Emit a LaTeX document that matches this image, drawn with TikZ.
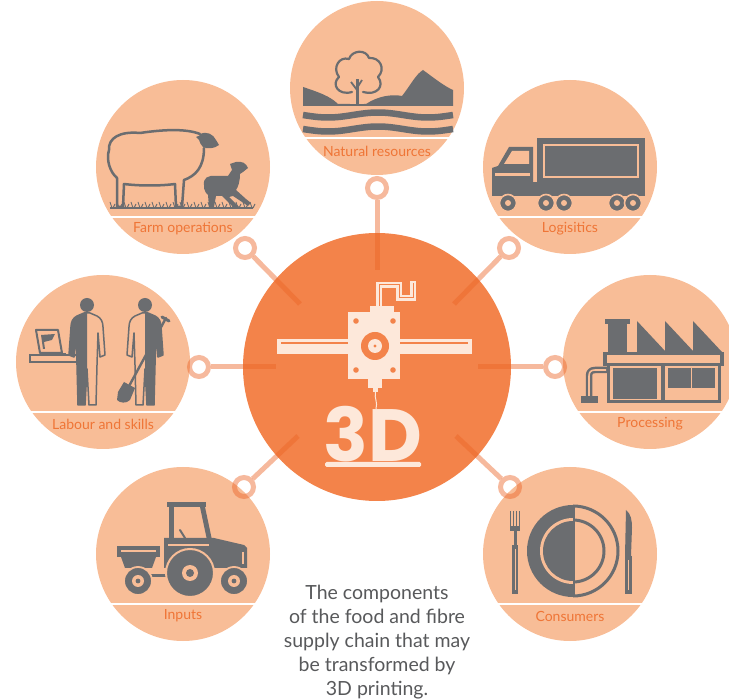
\documentclass[tikz,border=0pt]{standalone}
\usepackage{fontspec}
\setmainfont{Lato}
\newfontfamily\bigfont{Poppins}
\usetikzlibrary{calc}

\definecolor{hubfill}{HTML}{F3834A}
\definecolor{petal}{HTML}{F8BD97}
\definecolor{link}{HTML}{EC6426}
\definecolor{ink}{HTML}{6B6D70}
\definecolor{cream}{HTML}{FDE8DA}
\definecolor{labelc}{HTML}{EF7536}
\definecolor{capc}{HTML}{58595B}

\tikzset{
  hub/.style={circle, fill=hubfill, minimum size=268pt, inner sep=0pt},
  petalnode/.style={circle, fill=petal, minimum size=174pt, inner sep=0pt},
  ringnode/.style={circle, draw=link, draw opacity=0.45, line width=5pt, minimum size=19pt, inner sep=0pt},
  linkline/.style={draw=link, draw opacity=0.45, line width=5pt},
  divider/.style={draw=white, line width=1.5pt},
  lbl/.style={text=labelc, font=\fontsize{14}{16}\selectfont, inner sep=0pt, anchor=center},
  iconline/.style={draw=ink, line width=2.4pt, line join=round, line cap=round},
  pics/person/.style={code={
    \begin{scope}
      \clip (#1,-12) rectangle (0,104);
      \fill[ink] (-3,8) -- (-10,11) .. controls (-14,13) and (-16,17) .. (-16,22) -- (-18,50) -- (-13,52) -- (-11,28) -- (-10,60) -- (-9,100) -- (-2,100) -- (0,64) -- (2,100) -- (9,100) -- (10,60) -- (11,28) -- (13,52) -- (18,50) -- (16,22) .. controls (16,17) and (14,13) .. (10,11) -- (3,8) -- cycle;
    \end{scope}
    \draw[ink, line width=1.5pt, line join=round] (-3,8) -- (-10,11) .. controls (-14,13) and (-16,17) .. (-16,22) -- (-18,50) -- (-13,52) -- (-11,28) -- (-10,60) -- (-9,100) -- (-2,100) -- (0,64) -- (2,100) -- (9,100) -- (10,60) -- (11,28) -- (13,52) -- (18,50) -- (16,22) .. controls (16,17) and (14,13) .. (10,11) -- (3,8) -- cycle;
    \fill[ink] (0,0) circle (7pt);
  }}
}

\begin{document}
\begin{tikzpicture}[x=1pt, y=-1pt]
\useasboundingbox (0,0) rectangle (729,700);

% ---------------- hub and petals ----------------
\node[hub] (hub) at (377,367) {};
\node[petalnode] (nat)  at (377,88)  {};
\node[petalnode] (farm) at (183,167) {};
\node[petalnode] (logi) at (570,167) {};
\node[petalnode] (lab)  at (103,362) {};
\node[petalnode] (proc) at (650,362) {};
\node[petalnode] (inp)  at (183,554) {};
\node[petalnode] (cons) at (570,554) {};

% ---------------- dividers and labels ----------------
\draw[divider] (302,138) -- (452,138);
\node[lbl] (natl) at (377,151) {Natural resources};
\draw[divider] (108,217) -- (258,217);
\node[lbl] (farml) at (183,229) {Farm operations};
\draw[divider] (495,217) -- (645,217);
\node[lbl] (logil) at (570,229) {Logisitics};
\draw[divider] (28,412) -- (178,412);
\node[lbl] (labl) at (103,424) {Labour and skills};
\draw[divider] (575,412) -- (725,412);
\node[lbl] (procl) at (650,424) {Processing};
\draw[divider] (108,604) -- (258,604);
\node[lbl] (inpl) at (183,616) {Inputs};
\draw[divider] (495,604) -- (645,604);
\node[lbl] (consl) at (570,616) {Consumers};

% ---------------- natural resources: hills, tree, water ----------------
\fill[ink] (303,106) -- (303,87) .. controls (318,92) and (330,96) .. (338,104) -- (366,104)
  .. controls (378,96) and (392,94) .. (402,96) .. controls (410,86) and (416,74) .. (423,70)
  .. controls (434,78) and (444,86) .. (453,90) -- (453,106) -- cycle;
\fill[petal] (350,93) rectangle (364,104);
\draw[iconline, line width=2.2pt] (352,92) .. controls (338,96) and (331,84) .. (339,77)
  .. controls (332,68) and (339,56) .. (349,59) .. controls (352,50) and (366,49) .. (369,58)
  .. controls (380,57) and (386,69) .. (378,77) .. controls (385,86) and (377,96) .. (363,92);
\draw[ink, line width=3pt] (357,106) -- (357,79);
\draw[ink, line width=1.8pt] (357,90) -- (351,82) (357,88) -- (362,80);
\fill[ink] (330,104) rectangle (370,106);
\draw[ink, line width=6.5pt] plot[domain=303:453, samples=70] (\x, {115 + 2.5*sin((\x-303)*3.6)});
\draw[ink, line width=6.5pt] plot[domain=303:453, samples=70] (\x, {129 + 2.5*sin((\x-303)*3.6)});

% ---------------- farm operations: sheep and lamb ----------------
\draw[iconline, line width=2.5pt] (200,134) .. controls (185,128) and (160,130) .. (140,133)
  .. controls (120,131) and (108,138) .. (109,150) .. controls (106,160) and (110,172) .. (117,178)
  -- (117,207) -- (123,207) -- (124,184) .. controls (140,186) and (160,186) .. (175,184)
  -- (176,207) -- (182,207) -- (184,180) .. controls (195,176) and (204,168) .. (204,148);
\fill[ink] (200,134) .. controls (207,131) and (213,134) .. (216,140) -- (219,145)
  .. controls (214,149) and (207,149) .. (203,147) .. controls (199,143) and (198,138) .. (200,134) -- cycle;
\fill[ink] (201,135) -- (196,137) -- (199,140) -- cycle;
\fill[ink] (204,185) .. controls (203,178) and (208,175) .. (216,176) -- (228,176) -- (232,170)
  -- (230,164) -- (236,162) .. controls (242,161) and (246,163) .. (248,168) -- (243,172)
  -- (240,174) .. controls (240,182) and (238,187) .. (236,190) -- (246,199) -- (251,203)
  -- (248,206) -- (233,196) -- (229,197) -- (239,207) -- (234,208) -- (222,196) -- (216,196)
  -- (214,207) -- (209,207) -- (208,195) -- (206,193) .. controls (204,190) and (204,188) .. (204,185) -- cycle;
\draw[ink, line width=1.8pt] (110,208) -- (253,208);
\foreach \x in {112,119,...,252} {
  \draw[ink, line width=0.9pt] (\x,208) -- (\x-2,202) (\x+1,208) -- (\x+3,204);
}

% ---------------- logistics: truck ----------------
\fill[ink] (537,138) rectangle (645,183);
\draw[petal, line width=1.4pt] (544,145) rectangle (638,177);
\fill[ink] (492,182) rectangle (645,196);
\fill[ink] (492,196) -- (492,168) -- (498,166) -- (509,147) -- (533,147) -- (533,196) -- cycle;
\fill[petal] (512,151) -- (529,151) -- (529,164) -- (504,164) -- cycle;
\fill[petal] (495,173) rectangle (530,176.5);
\foreach \x in {508,546,564,617,633} {
  \fill[ink, draw=petal, line width=1.6pt] (\x,203) circle (8.5pt);
  \fill[petal] (\x,203) circle (3pt);
}

% ---------------- processing: factory ----------------
\fill[ink] (605,319) rectangle (630,324);
\fill[ink] (608,324) rectangle (627,354);
\foreach \x in {637,665,693} {
  \fill[ink] (\x,321) -- (\x+29,352) -- (\x,352) -- cycle;
}
\fill[ink] (603,352) rectangle (724,366);
\fill[petal] (607,355) rectangle (720,363);
\draw[ink, line width=3pt] (608,366) -- (608,402) -- (719,402) -- (719,366);
\fill[ink] (613,368) rectangle (657,399);
\fill[ink] (661,366) rectangle (665,402);
\fill[ink] (668,368) rectangle (715,388);
\draw[petal, line width=1.6pt] (691.5,368) -- (691.5,388);
\draw[ink, line width=6.5pt, line join=round] (589,398) -- (589,376) .. controls (589,372) and (591,370) .. (595,370) -- (608,370);
\draw[petal, line width=1.6pt] (589,396) -- (589,376) .. controls (589,372) and (591,370) .. (595,370) -- (606,370);
\fill[ink] (581,396) rectangle (598,403);

% ---------------- labour and skills: desk, laptop, two workers ----------------
\draw[ink, line width=2pt] (30,355) rectangle (82,362);
\draw[ink, line width=2pt, line join=round] (36,330) -- (58,330) -- (62,353) -- (40,353) -- cycle;
\fill[ink] (41,335) -- (55,334) -- (52,340) -- (44,342) -- (45,349) -- (43,349) -- cycle;
\fill[ink] (40,353) rectangle (66,356);
\pic at (87,305) {person=-30};
\pic at (145,305) {person=30};
\fill[ink] (70,349) -- (78,340) -- (80,345) -- (73,352) -- cycle;
\draw[ink, line width=2.4pt, line cap=round] (166,318) -- (128,388);
\draw[ink, line width=3pt, line cap=round] (162,317) -- (169,321);
\fill[ink] (124,382) -- (135,388) -- (130,400) .. controls (126,404) and (120,403) .. (117,400) -- (118,392) -- cycle;

% ---------------- inputs: tractor and trailer ----------------
\fill[ink] (167,502) rectangle (206,507);
\fill[ink] (169,507) rectangle (174,540);
\fill[ink] (200,507) -- (205,507) -- (212,540) -- (207,540) -- cycle;
\draw[ink, line width=2pt, line cap=round] (180,530) -- (185,538);
\fill[ink] (164,538) -- (214,538) -- (244,545) -- (247,548) -- (247,568) -- (164,568) -- cycle;
\draw[petal, line width=1.5pt] (168,545) -- (209,545);
\draw[petal, line width=1.3pt] (243,552) -- (243,564);
\fill[ink] (117,546) rectangle (160,557);
\draw[petal, line width=1.3pt] (121,551) -- (156,551);
\fill[ink] (121,557) -- (156,557) -- (152,568) -- (125,568) -- cycle;
\draw[ink, line width=3pt] (148,576) -- (172,576);
\fill[ink, draw=petal, line width=2pt] (190,573) circle (24pt);
\fill[petal] (190,573) circle (8pt);
\fill[ink] (190,573) circle (4pt);
\foreach \x in {138,234} {
  \fill[ink, draw=petal, line width=1.8pt] (\x,581) circle (14pt);
  \fill[petal] (\x,581) circle (6pt);
  \fill[ink] (\x,581) circle (2.4pt);
}

% ---------------- consumers: plate, fork and knife ----------------
\begin{scope}
  \clip (515,495) rectangle (573,610);
  \fill[ink] (573,551) circle (46pt);
  \fill[petal] (573,551) circle (33pt);
  \fill[ink] (573,551) circle (30pt);
\end{scope}
\begin{scope}
  \clip (573,495) rectangle (630,610);
  \draw[ink, line width=3pt] (573,551) circle (45pt);
  \draw[ink, line width=3pt] (573,551) circle (31pt);
\end{scope}
\draw[ink, line width=2.5pt] (574,505) -- (574,597);
\foreach \x in {510.5,513.5,516.5,519.5} {
  \draw[ink, line width=1.2pt] (\x,511) -- (\x,527);
}
\fill[ink] (509.9,526) rectangle (520.1,531);
\draw[ink, line width=3pt] (515,530) -- (515,546);
\fill[ink] (512,545) rectangle (518,594);
\draw[petal, line width=0.9pt] (515,549) -- (515,590);
\fill[ink] (626,510) .. controls (631,514) and (632,520) .. (632,528) -- (631,556) -- (625,556) -- cycle;
\fill[ink] (625,556) rectangle (632,594);
\draw[petal, line width=0.9pt] (628.5,560) -- (628.5,590);

% ---------------- printer and "3D" in the hub ----------------
\fill[cream] (277,339) rectangle (472,354);
\draw[hubfill, line width=1.2pt] (281,343) -- (468,343);
\draw[cream, line width=6pt, line join=miter] (379,312) -- (379,285) -- (399,285) -- (399,298) -- (413,298) -- (413,281);
\draw[hubfill, line width=1pt] (379,309) -- (379,285) -- (399,285) -- (399,298) -- (413,298) -- (413,283);
\fill[cream] (370,306) rectangle (394,313);
\fill[cream] (348,312) rectangle (400,379);
\foreach \p in {(356,321),(393,321),(356,370),(393,370)} {
  \fill[hubfill] \p circle (2.8pt);
}
\fill[hubfill] (375,346) circle (14pt);
\fill[cream] (375,346) circle (7pt);
\fill[hubfill] (375,346) circle (1.6pt);
\fill[cream] (368,379) rectangle (382,388);
\fill[cream] (373,388) rectangle (378,392);
\draw[cream, line width=1pt] (375.5,392) .. controls (374,398) and (378,402) .. (376,409);
\node[text=cream, font=\bigfont\bfseries\fontsize{74}{74}\selectfont, inner sep=0pt, anchor=base] (three) at (373,462) {3D};
\fill[cream, rounded corners=1.5pt] (325,462) rectangle (421,467);

% ---------------- connectors: rings and spokes ----------------
\node[ringnode] (rn)  at (377,188) {};
\node[ringnode] (rnw) at (245,248) {};
\node[ringnode] (rne) at (509,248) {};
\node[ringnode] (rw)  at (199,367) {};
\node[ringnode] (re)  at (555,367) {};
\node[ringnode] (rsw) at (244,487) {};
\node[ringnode] (rse) at (510,487) {};
\coordinate (hn)  at (377,270);
\coordinate (hnw) at (300,304);
\coordinate (hne) at (454,304);
\coordinate (hw)  at (276,367);
\coordinate (he)  at (478,367);
\coordinate (hsw) at (298,436);
\coordinate (hse) at (456,436);
\draw[linkline] (rn) -- (hn);
\draw[linkline] (rnw) -- (hnw);
\draw[linkline] (rne) -- (hne);
\draw[linkline] (rw) -- (hw);
\draw[linkline] (re) -- (he);
\draw[linkline] (rsw) -- (hsw);
\draw[linkline] (rse) -- (hse);

% ---------------- caption ----------------
\node[text=capc, font=\fontsize{19.5}{24}\selectfont, align=center, anchor=north, inner sep=0pt] (caption) at (377,585)
  {The components\\of the food and fibre\\supply chain that may\\be transformed by\\3D printing.};
\end{tikzpicture}
\end{document}
